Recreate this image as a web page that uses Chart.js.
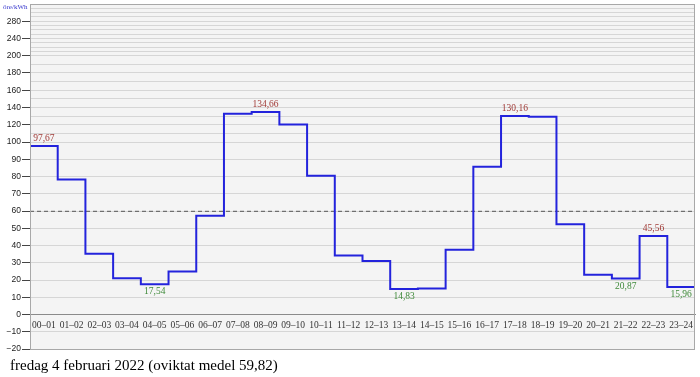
<!DOCTYPE html>
<html>
<head>
<meta charset="utf-8">
<script src="https://cdn.jsdelivr.net/npm/chart.js@4.4.1/dist/chart.umd.min.js"></script>
<style>
  html, body { margin: 0; padding: 0; background: #fff; }
  #wrap { position: relative; width: 700px; height: 377px; }
  #unit { position: absolute; left: 3px; top: 3px; font: 7px "Liberation Serif", serif; color: #3333cc; }
  #caption { position: absolute; left: 10px; top: 357px; font: 15px "Liberation Serif", "Times New Roman", serif; color: #000; white-space: nowrap; }
</style>
</head>
<body>
<div id="wrap">
  <canvas id="chart" width="700" height="377"></canvas>
  <div id="unit">öre/kWh</div>
  <div id="caption">fredag 4 februari 2022 (oviktat medel 59,82)</div>
</div>
<script>
// --- DATA ---
const hourLabels = ['00–01', '01–02', '02–03', '03–04', '04–05', '05–06', '06–07', '07–08',
  '08–09', '09–10', '10–11', '11–12', '12–13', '13–14', '14–15', '15–16',
  '16–17', '17–18', '18–19', '19–20', '20–21', '21–22', '22–23', '23–24'];
const prices = [97.67, 78.3, 35.2, 21.0, 17.54, 24.9, 57.3, 132.8,
  134.66, 120.2, 80.5, 34.2, 31.0, 14.83, 15.1, 37.6,
  85.6, 130.16, 129.4, 52.3, 23.0, 20.87, 45.56, 15.96];
const meanPrice = 59.82;
const peakHours = [0, 8, 17, 22];
const lowHours = [4, 13, 21, 23];
const yTickLabels = [-20, -10, 0, 10, 20, 30, 40, 50, 60, 70, 80, 90, 100, 120, 140, 160, 180, 200, 240, 280];
const yMin = -20, yMax = 320;

// --- BROKEN Y SCALE (10 per step up to 100, 20 per step to 200, 40 per step above) ---
function squeeze(v) {
    if (v <= 100) return v;
    if (v <= 200) return 100 + (v - 100) / 2;
    return 150 + (v - 200) / 4;
}
function unsqueeze(t) {
    if (t <= 100) return t;
    if (t <= 150) return 100 + (t - 100) * 2;
    return 200 + (t - 150) * 4;
}
class BrokenScale extends Chart.LinearScale {
    getPixelForValue(value) {
        if (value === null || isNaN(value)) return NaN;
        const a = squeeze(this.min), b = squeeze(this.max);
        return this.getPixelForDecimal((squeeze(value) - a) / (b - a));
    }
    getValueForPixel(pixel) {
        const a = squeeze(this.min), b = squeeze(this.max);
        return unsqueeze(a + this.getDecimalForPixel(pixel) * (b - a));
    }
}
BrokenScale.id = 'broken';
BrokenScale.defaults = Chart.LinearScale.defaults;
Chart.register(BrokenScale);

const fmt = v => v.toFixed(2).replace('.', ',');

// frame + background of the plot area
const framePlugin = {
    id: 'frame',
    beforeDraw(chart) {
        const { ctx, chartArea: a } = chart;
        ctx.save();
        ctx.fillStyle = '#f4f4f4';
        ctx.fillRect(a.left, a.top, a.right - a.left, a.bottom - a.top);
        ctx.restore();
    },
    afterDraw(chart) {
        const { ctx, chartArea: a } = chart;
        ctx.save();
        ctx.strokeStyle = '#a8a8a8';
        ctx.lineWidth = 1;
        ctx.strokeRect(Math.round(a.left) + 0.5, Math.round(a.top) + 0.5,
            Math.round(a.right - a.left) - 1, Math.round(a.bottom - a.top));
        ctx.restore();
    }
};

// max / min value labels
const valueLabelPlugin = {
    id: 'valueLabels',
    afterDatasetsDraw(chart) {
        const { ctx, scales: { x, y } } = chart;
        ctx.save();
        ctx.font = '9.5px "Liberation Serif", serif';
        ctx.textAlign = 'center';
        ctx.fillStyle = '#a03a36';
        ctx.textBaseline = 'bottom';
        peakHours.forEach(h => {
            ctx.fillText(fmt(prices[h]), x.getPixelForValue(h + 0.5), y.getPixelForValue(prices[h]) - 3);
        });
        ctx.fillStyle = '#3f8a3a';
        ctx.textBaseline = 'top';
        lowHours.forEach(h => {
            ctx.fillText(fmt(prices[h]), x.getPixelForValue(h + 0.5), y.getPixelForValue(prices[h]) + 3);
        });
        ctx.restore();
    }
};

const stepPoints = prices.map((p, i) => ({ x: i, y: p }));
stepPoints.push({ x: prices.length, y: prices[prices.length - 1] });

new Chart(document.getElementById('chart'), {
    type: 'line',
    data: {
        datasets: [{
            data: stepPoints,
            stepped: 'before',
            borderColor: '#2323dc',
            borderWidth: 2,
            pointRadius: 0,
            borderJoinStyle: 'miter',
            order: 1
        }, {
            data: [{ x: 0, y: meanPrice }, { x: prices.length, y: meanPrice }],
            borderColor: '#555',
            borderWidth: 1,
            borderDash: [4, 3],
            pointRadius: 0,
            order: 2
        }]
    },
    options: {
        responsive: false,
        animation: false,
        events: [],
        layout: { padding: { top: 4, right: 5, bottom: 28, left: 0 } },
        plugins: { legend: { display: false }, tooltip: { enabled: false }, title: { display: false } },
        scales: {
            x: {
                type: 'linear',
                min: 0, max: prices.length,
                position: { y: 0 },
                afterBuildTicks: s => { s.ticks = hourLabels.map((_, i) => ({ value: i + 0.5 })); },
                ticks: {
                    autoSkip: false, maxRotation: 0, padding: 5,
                    color: '#333',
                    font: { family: '"Liberation Serif", serif', size: 9.5 },
                    callback: v => hourLabels[Math.floor(v)]
                },
                grid: { display: false, drawTicks: false },
                border: { display: true, color: '#8a8a8a', width: 1 }
            },
            y: {
                type: 'broken',
                min: yMin, max: yMax,
                afterBuildTicks: s => {
                    const t = [];
                    for (let v = yMin; v <= yMax; v += 10) t.push({ value: v });
                    s.ticks = t;
                },
                afterFit: s => { s.width = 30; s.paddingTop = 0; s.paddingBottom = 0; },
                ticks: {
                    autoSkip: false, padding: 1,
                    color: '#222',
                    font: { family: '"Liberation Sans", sans-serif', size: 8.5 },
                    callback: v => yTickLabels.includes(v) ? String(v).replace('-', '−') : ''
                },
                grid: {
                    color: c => c.tick && c.tick.value === 0 ? '#8a8a8a' : '#d6d6d6',
                    tickColor: c => c.tick && yTickLabels.includes(c.tick.value) ? '#444' : 'rgba(0,0,0,0)',
                    tickLength: 8,
                    drawTicks: true
                },
                border: { display: true, color: '#a0a0a0', width: 1 }
            }
        }
    },
    plugins: [framePlugin, valueLabelPlugin]
});
</script>
</body>
</html>
